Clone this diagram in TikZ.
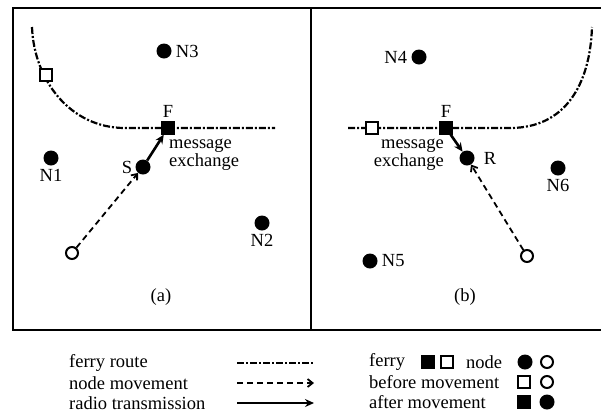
\documentclass[tikz,border=0pt]{standalone}
\usepackage{fontspec}
\setmainfont{Liberation Serif}
\usetikzlibrary{arrows.meta,positioning}

\begin{document}
\begin{tikzpicture}[x=1pt,y=-1pt,
    route/.style={line width=2.2pt,dash pattern=on 7pt off 2pt on 2pt off 2pt},
    ferrynew/.style={draw,fill=black,minimum size=12pt,inner sep=0pt,line width=1.2pt},
    ferryold/.style={draw,fill=white,minimum size=12pt,inner sep=0pt,line width=1.8pt},
    nodenew/.style={circle,fill=black,minimum size=15pt,inner sep=0pt},
    nodeold/.style={circle,draw,fill=white,minimum size=12pt,inner sep=0pt,line width=2pt},
    lbl/.style={font=\fontsize{18.5}{16}\selectfont,inner sep=1pt},
    move/.style={dash pattern=on 6pt off 4pt,line width=1.8pt,-{Straight Barb[length=5pt,width=8pt]}},
    radio/.style={line width=2.6pt,-{Stealth[length=9pt,width=8pt]}}]
   \useasboundingbox (0,0) rectangle (601,416);
   % frame
   \draw[line width=2.6pt] (601,8) -- (13,8) -- (13,330) -- (601,330);
   \draw[line width=1.4pt] (311,8) -- (311,330);
   % panel (a)
   \draw[route] (32,27) .. controls (34,80) and (70,128) .. (125,128) -- (275,128);
   \node[ferryold] (faold) at (46,75) {};
   \node[nodenew] (n3) at (164,51) {};
   \node[lbl,right=3pt of n3] {N3};
   \node[nodenew] (n1) at (51,158) {};
   \node[lbl,below=2pt of n1] {N1};
   \node[nodenew] (n2) at (262,223) {};
   \node[lbl,below=2pt of n2] {N2};
   \node[ferrynew] (fa) at (168,128) {};
   \node[lbl,above=3pt of fa] {F};
   \node[nodenew] (s) at (143,167) {};
   \node[lbl,left=2pt of s] {S};
   \node[nodeold] (sold) at (72,253) {};
   \draw[move] (sold) -- (s);
   \draw[radio] (s) -- (fa);
   \node[lbl,align=left,anchor=west] at (168,155) {message\\exchange};
   \node[lbl] (capa) at (161,297) {(a)};
   % panel (b)
   \draw[route] (348,128) -- (510,128) .. controls (565,128) and (590,85) .. (592,27);
   \node[ferryold] (fbold) at (372,128) {};
   \node[nodenew] (n4) at (419,57) {};
   \node[lbl,left=3pt of n4] {N4};
   \node[nodenew] (n5) at (370,261) {};
   \node[lbl,right=3pt of n5] {N5};
   \node[nodenew] (n6) at (558,168) {};
   \node[lbl,below=2pt of n6] {N6};
   \node[ferrynew] (fb) at (446,128) {};
   \node[lbl,above=3pt of fb] {F};
   \node[nodenew] (r) at (467,158) {};
   \node[lbl,right=8pt of r] {R};
   \node[nodeold] (rold) at (527,256) {};
   \draw[move] (rold) -- (r);
   \draw[radio] (fb) -- (r);
   \node[lbl,align=right,anchor=east] at (445,155) {message\\exchange};
   \node[lbl] (capb) at (465,297) {(b)};
   % legend
   \node[lbl,anchor=west] (lroute) at (68,363) {ferry route};
   \node[lbl,anchor=west] (lmove) at (68,383) {node movement};
   \node[lbl,anchor=west] (lradio) at (68,403) {radio transmission};
   \coordinate (ra) at (237,363); \coordinate (rb) at (314,363);
   \coordinate (ma) at (237,383); \coordinate (mb) at (314,383);
   \coordinate (ta) at (237,403); \coordinate (tb) at (314,403);
   \draw[route] (ra) -- (rb);
   \draw[move] (ma) -- (mb);
   \draw[radio] (ta) -- (tb);
   \node[lbl,anchor=west] (lferry) at (368,362) {ferry};
   \node[ferrynew] (kf1) at (428,362) {};
   \node[ferryold] (kf2) at (447,362) {};
   \node[lbl,anchor=west] (lnode) at (465,362) {node};
   \node[nodenew] (kn1) at (525,362) {};
   \node[nodeold] (kn2) at (547,362) {};
   \node[lbl,anchor=west] (lbefore) at (368,382) {before movement};
   \node[ferryold] (kb1) at (524,382) {};
   \node[nodeold] (kb2) at (547,382) {};
   \node[lbl,anchor=west] (lafter) at (368,402) {after movement};
   \node[ferrynew] (ka1) at (524,402) {};
   \node[nodenew] (ka2) at (547,402) {};
  \end{tikzpicture}
\end{document}
